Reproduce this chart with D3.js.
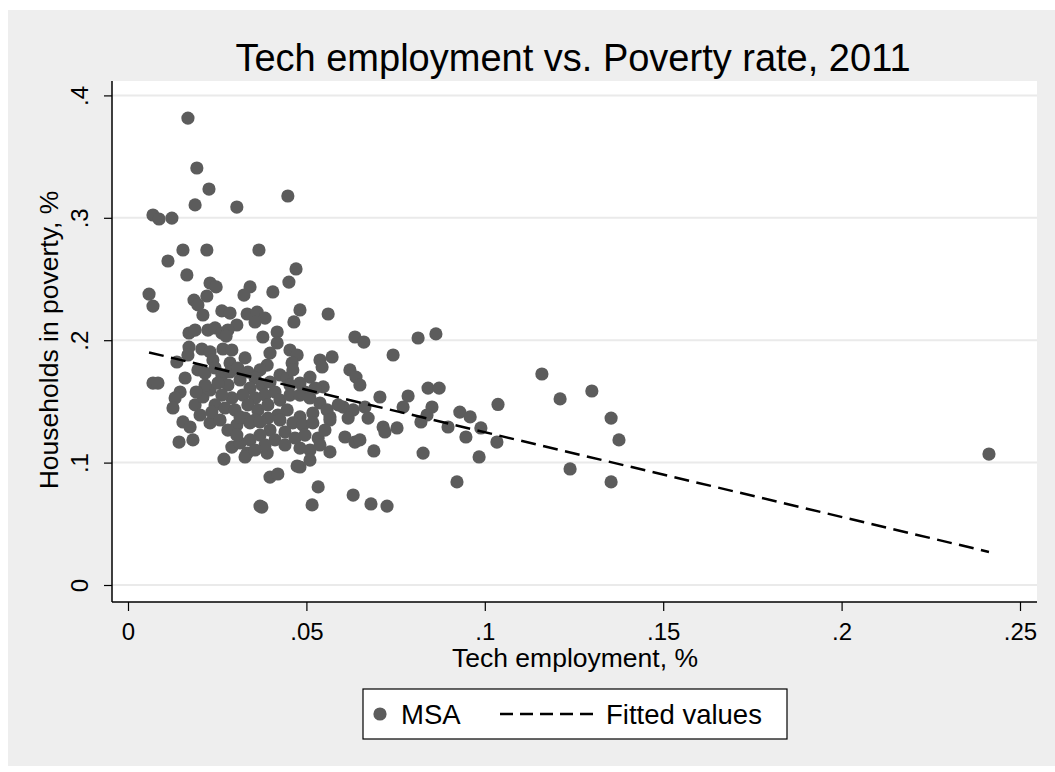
<!DOCTYPE html>
<html>
<head>
<meta charset="utf-8">
<script src="https://cdn.jsdelivr.net/npm/d3@7"></script>
<style>
  body { margin: 0; background: #fff; }
  text { font-family: "Liberation Sans", Arial, Helvetica, sans-serif; fill: #000; }
</style>
</head>
<body>
<svg id="chart"></svg>
<script>
// tech employment share, households in poverty share (one pair per MSA)
const msaPoints = [
  [0.0168,0.3815],[0.0193,0.3407],[0.0227,0.3235],[0.0188,0.3105],[0.0305,0.3088],[0.0448,0.3178],
  [0.0070,0.3023],[0.0087,0.2990],[0.0123,0.2998],[0.0154,0.2737],[0.0221,0.2737],[0.0112,0.2647],
  [0.0367,0.2737],[0.0471,0.2582],[0.0165,0.2533],[0.0451,0.2475],[0.0230,0.2467],[0.0247,0.2435],
  [0.0221,0.2361],[0.0342,0.2435],[0.0325,0.2369],[0.0406,0.2394],[0.0059,0.2377],[0.0070,0.2279],
  [0.0185,0.2328],[0.0196,0.2288],[0.0210,0.2206],[0.0263,0.2239],[0.0286,0.2222],[0.0334,0.2214],
  [0.0362,0.2230],[0.0384,0.2181],[0.0356,0.2149],[0.0482,0.2247],[0.0465,0.2149],[0.0561,0.2214],
  [0.0305,0.2124],[0.0224,0.2083],[0.0244,0.2100],[0.0263,0.2059],[0.0280,0.2083],[0.0275,0.2034],
  [0.0171,0.2059],[0.0188,0.2083],[0.0418,0.2067],[0.0378,0.2026],[0.0418,0.1977],[0.0398,0.1895],
  [0.0171,0.1944],[0.0207,0.1928],[0.0230,0.1904],[0.0266,0.1928],[0.0291,0.1920],[0.0137,0.1822],
  [0.0168,0.1879],[0.0454,0.1920],[0.0474,0.1879],[0.0460,0.1814],[0.0538,0.1838],[0.0572,0.1863],
  [0.0544,0.1781],[0.0328,0.1855],[0.0238,0.1838],[0.0286,0.1814],[0.0196,0.1757],[0.0216,0.1732],
  [0.0070,0.1650],[0.0084,0.1650],[0.0160,0.1691],[0.0510,0.1699],[0.0390,0.1797],[0.0370,0.1757],
  [0.0426,0.1716],[0.0446,0.1691],[0.0462,0.1757],[0.0547,0.1618],[0.0146,0.1577],[0.0132,0.1528],
  [0.0126,0.1446],[0.0188,0.1471],[0.0154,0.1332],[0.0210,0.1536],[0.0230,0.1593],
  [0.0636,0.2026],[0.0661,0.1985],[0.0743,0.1879],[0.0813,0.2018],[0.0863,0.2051],[0.0622,0.1757],
  [0.0639,0.1699],[0.0650,0.1634],[0.0496,0.1577],[0.0706,0.1536],[0.0785,0.1544],[0.0841,0.1609],
  [0.0872,0.1609],[0.0771,0.1454],[0.0852,0.1454],[0.0838,0.1389],[0.0930,0.1413],[0.0959,0.1373],
  [0.0603,0.1454],[0.0631,0.1430],[0.0664,0.1454],[0.0617,0.1364],[0.0673,0.1364],[0.0566,0.1373],
  [0.0715,0.1291],[0.0720,0.1250],[0.0754,0.1283],[0.0821,0.1332],[0.0897,0.1291],[0.0989,0.1283],
  [0.0947,0.1209],[0.1034,0.1168],[0.0608,0.1209],[0.0636,0.1168],[0.0650,0.1185],[0.0566,0.1087],
  [0.0689,0.1095],[0.0827,0.1078],[0.0984,0.1046],[0.0482,0.0964],[0.0922,0.0842],[0.0533,0.0801],
  [0.0631,0.0735],[0.0516,0.0654],[0.0681,0.0662],[0.0726,0.0645],
  [0.1160,0.1724],[0.1037,0.1475],[0.1211,0.1520],[0.1300,0.1585],[0.1354,0.1364],[0.1376,0.1185],
  [0.1239,0.0948],[0.1354,0.0842],[0.2413,0.1070],
  [0.0143,0.1168],[0.0182,0.1185],[0.0269,0.1029],[0.0291,0.1127],[0.0314,0.1160],[0.0334,0.1078],
  [0.0328,0.1046],[0.0305,0.1307],[0.0328,0.1364],[0.0390,0.1078],[0.0398,0.0882],[0.0420,0.0907],
  [0.0370,0.0645],[0.0375,0.0637],[0.0474,0.0972],[0.0482,0.1119],[0.0510,0.1103],[0.0230,0.1324],
  [0.0174,0.1291],
  [0.0244,0.1773],[0.0263,0.1716],[0.0286,0.1740],[0.0308,0.1773],[0.0336,0.1740],[0.0356,0.1691],
  [0.0314,0.1675],[0.0280,0.1634],[0.0252,0.1650],[0.0342,0.1609],[0.0376,0.1634],[0.0398,0.1658],
  [0.0412,0.1577],[0.0384,0.1552],[0.0356,0.1528],[0.0322,0.1552],[0.0291,0.1528],[0.0263,0.1552],
  [0.0244,0.1471],[0.0272,0.1446],[0.0300,0.1430],[0.0336,0.1471],[0.0364,0.1430],[0.0392,0.1471],
  [0.0426,0.1511],[0.0454,0.1552],[0.0482,0.1552],[0.0510,0.1528],[0.0538,0.1487],[0.0558,0.1430],
  [0.0518,0.1405],[0.0482,0.1373],[0.0446,0.1430],[0.0420,0.1389],[0.0392,0.1364],[0.0356,0.1348],
  [0.0314,0.1373],[0.0342,0.1324],[0.0370,0.1332],[0.0398,0.1266],[0.0426,0.1348],[0.0462,0.1324],
  [0.0490,0.1307],[0.0518,0.1324],[0.0566,0.1348],[0.0589,0.1471],[0.0440,0.1250],[0.0468,0.1201],
  [0.0496,0.1225],[0.0533,0.1201],[0.0552,0.1266],[0.0370,0.1225],[0.0342,0.1185],[0.0412,0.1185],
  [0.0440,0.1144],[0.0384,0.1144],[0.0235,0.1413],[0.0258,0.1348],[0.0280,0.1266],[0.0202,0.1389],
  [0.0216,0.1634],[0.0191,0.1577],[0.0454,0.1634],[0.0482,0.1650],[0.0524,0.1609],[0.0305,0.1225],
  [0.0356,0.1103],[0.0538,0.1144],[0.0510,0.1021]
];

// fitted values (linear fit), read at the two ends of the dashed line
const fitX = [0.0059, 0.2413];
const fitY = [0.190, 0.027];

const xTicks = [0, 0.05, 0.1, 0.15, 0.2, 0.25];
const xTickLabels = ["0", ".05", ".1", ".15", ".2", ".25"];
const yTicks = [0, 0.1, 0.2, 0.3, 0.4];
const yTickLabels = ["0", ".1", ".2", ".3", ".4"];

const W = 1055, H = 772;
const plot = { left: 112, right: 1037, top: 81, bottom: 602 };
const markerColor = "#5c5c5c";

const svg = d3.select("#chart").attr("width", W).attr("height", H);

// outer gray panel
svg.append("rect")
  .attr("x", 8).attr("y", 10)
  .attr("width", W - 8).attr("height", 756)
  .style("fill", "#eeeeee");

// plot region
svg.append("rect")
  .attr("x", plot.left).attr("y", plot.top)
  .attr("width", plot.right - plot.left).attr("height", plot.bottom - plot.top)
  .style("fill", "#fff");

const x = d3.scaleLinear().domain([0, 0.25]).range([128, 1020]);
const y = d3.scaleLinear().domain([0, 0.4]).range([585, 95.4]);

// grid lines
svg.append("g").selectAll("line")
  .data(yTicks)
  .join("line")
  .attr("x1", plot.left).attr("x2", plot.right)
  .attr("y1", d => y(d)).attr("y2", d => y(d))
  .style("stroke", "#eaeaea")
  .style("stroke-width", 2);

// y axis
const yAxis = svg.append("g")
  .attr("transform", `translate(${plot.left},0)`)
  .call(d3.axisLeft(y).tickValues(yTicks)
    .tickFormat((d, i) => yTickLabels[i]).tickSize(8).tickSizeOuter(0));
yAxis.select(".domain").remove();
yAxis.selectAll(".tick line").style("stroke", "#000").style("stroke-width", 1.2);
yAxis.selectAll(".tick text")
  .attr("x", null).attr("dy", null)
  .attr("transform", "translate(-24,0) rotate(-90)")
  .attr("text-anchor", "middle")
  .style("font-size", "24px");

// x axis
const xAxis = svg.append("g")
  .attr("transform", `translate(0,${plot.bottom})`)
  .call(d3.axisBottom(x).tickValues(xTicks)
    .tickFormat((d, i) => xTickLabels[i]).tickSize(9).tickSizeOuter(0));
xAxis.select(".domain").remove();
xAxis.selectAll(".tick line").style("stroke", "#000").style("stroke-width", 1.2);
xAxis.selectAll(".tick text")
  .attr("y", 38).attr("dy", null)
  .style("font-size", "24px");

// axis lines
svg.append("line")
  .attr("x1", plot.left).attr("x2", plot.left)
  .attr("y1", plot.top).attr("y2", plot.bottom)
  .style("stroke", "#000").style("stroke-width", 1.5);
svg.append("line")
  .attr("x1", plot.left).attr("x2", plot.right)
  .attr("y1", plot.bottom).attr("y2", plot.bottom)
  .style("stroke", "#000").style("stroke-width", 1.5);

// scatter points
svg.append("g").selectAll("circle")
  .data(msaPoints)
  .join("circle")
  .attr("cx", d => x(d[0]))
  .attr("cy", d => y(d[1]))
  .attr("r", 6.6)
  .style("fill", markerColor);

// fitted line
svg.append("path")
  .datum(fitX.map((v, i) => [v, fitY[i]]))
  .attr("d", d3.line().x(d => x(d[0])).y(d => y(d[1])))
  .style("fill", "none")
  .style("stroke", "#000")
  .style("stroke-width", 2.5)
  .style("stroke-dasharray", "15,7.5");

// titles
svg.append("text")
  .attr("x", 573).attr("y", 71)
  .attr("text-anchor", "middle")
  .style("font-size", "38px")
  .text("Tech employment vs. Poverty rate, 2011");

svg.append("text")
  .attr("x", 575).attr("y", 667)
  .attr("text-anchor", "middle")
  .style("font-size", "26.5px")
  .text("Tech employment, %");

svg.append("text")
  .attr("transform", "translate(58,340) rotate(-90)")
  .attr("text-anchor", "middle")
  .style("font-size", "26.5px")
  .text("Households in poverty, %");

// legend
const legend = svg.append("g");
legend.append("rect")
  .attr("x", 363).attr("y", 689)
  .attr("width", 424).attr("height", 50)
  .style("fill", "#fff")
  .style("stroke", "#000")
  .style("stroke-width", 1.2);
legend.append("circle")
  .attr("cx", 380).attr("cy", 714)
  .attr("r", 6.6)
  .style("fill", markerColor);
legend.append("text")
  .attr("x", 401).attr("y", 724)
  .style("font-size", "27.5px")
  .text("MSA");
legend.append("line")
  .attr("x1", 500).attr("x2", 595)
  .attr("y1", 714).attr("y2", 714)
  .style("stroke", "#000")
  .style("stroke-width", 2.5)
  .style("stroke-dasharray", "13,7");
legend.append("text")
  .attr("x", 606).attr("y", 724)
  .style("font-size", "27.5px")
  .text("Fitted values");
</script>
</body>
</html>
